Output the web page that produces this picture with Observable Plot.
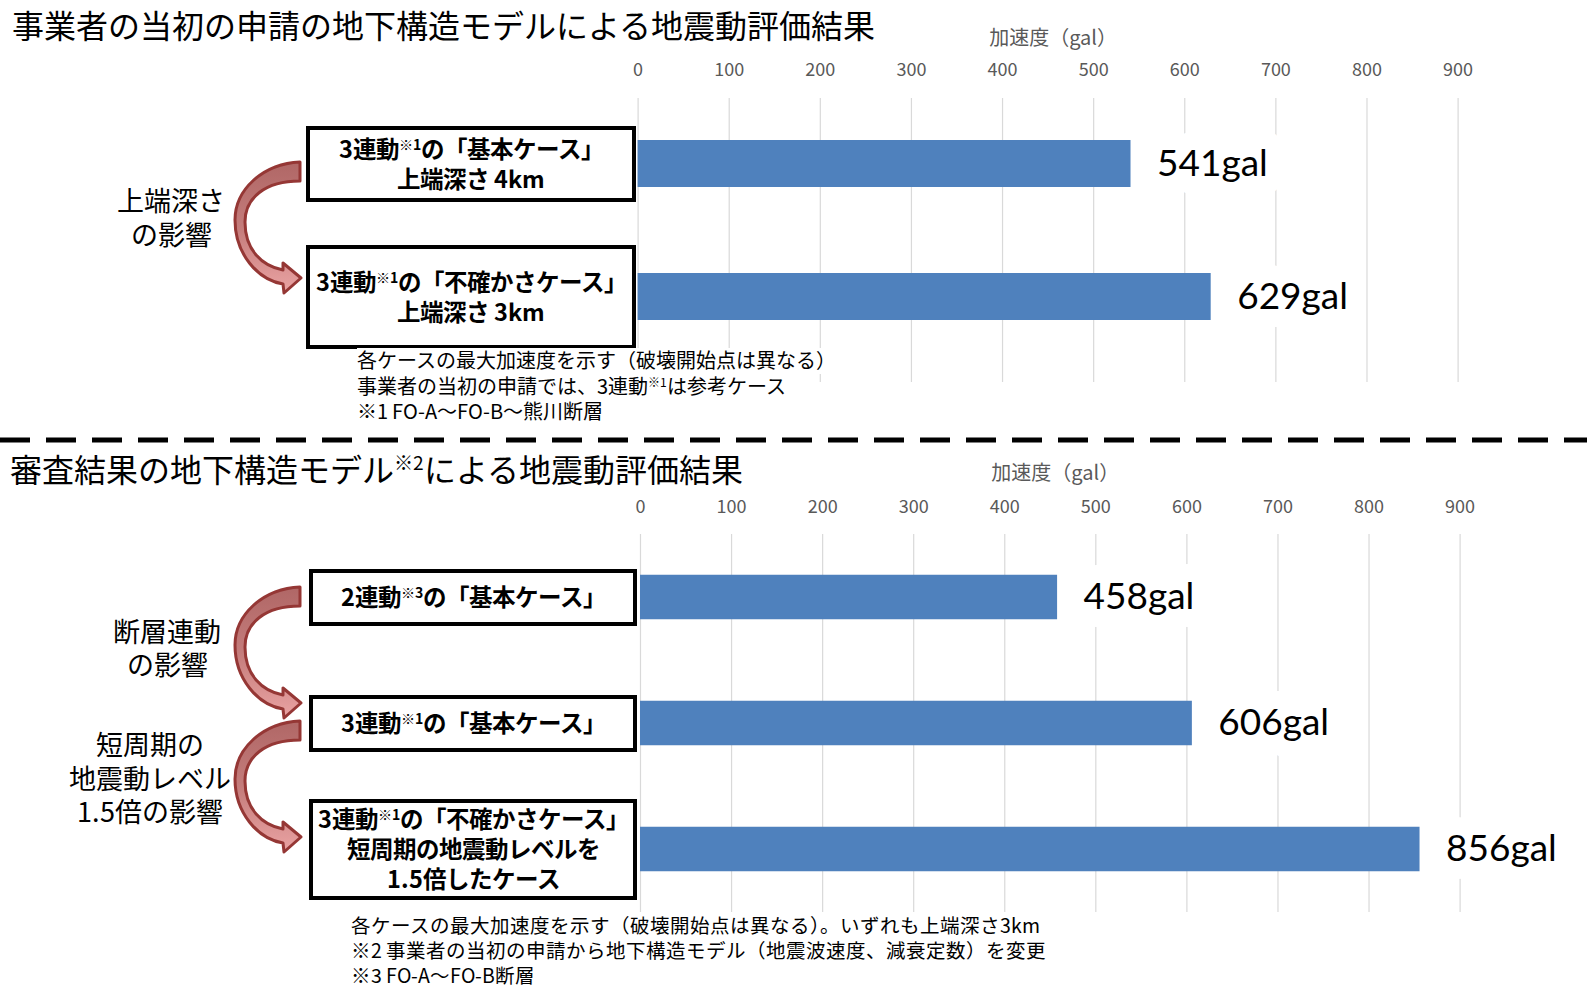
<!DOCTYPE html>
<html><head><meta charset="utf-8">
<script src="https://cdn.jsdelivr.net/npm/d3@7"></script>
<script src="https://cdn.jsdelivr.net/npm/@observablehq/plot@0.6"></script>
<style>
@font-face{font-family:"JP";src:local("Noto Sans CJK JP Regular"),local("NotoSansCJKjp-Regular"),local("Noto Sans CJK JP");font-weight:400;ascent-override:88%;descent-override:12%;line-gap-override:0%;}
@font-face{font-family:"JP";src:local("Noto Sans CJK JP Bold"),local("NotoSansCJKjp-Bold");font-weight:700;ascent-override:88%;descent-override:12%;line-gap-override:0%;}
body{margin:0;background:#fff;}
#page{position:relative;width:1587px;height:986px;overflow:hidden;background:#fff;font-family:"JP","Noto Sans CJK JP",sans-serif;color:#000;}
.title{position:absolute;font-size:32px;line-height:40px;white-space:nowrap;}
.box{position:absolute;box-sizing:border-box;border:4px solid #000;background:#fff;display:flex;flex-direction:column;align-items:center;justify-content:center;font-weight:bold;font-size:23.5px;white-space:nowrap;}
.box div{line-height:30px;}
.note{position:absolute;white-space:nowrap;}
.note div{background:#fff;display:table;}
.side{position:absolute;font-size:27px;line-height:33.5px;text-align:center;white-space:nowrap;width:300px;}
sup{font-size:0.6em;vertical-align:0.6em;line-height:0;}
svg.overlay{position:absolute;left:0;top:0;}
</style></head><body><div id="page"></div>
<script>
// ---------- data ----------
const axisTicks = [0, 100, 200, 300, 400, 500, 600, 700, 800, 900];
const axisLabel = "加速度（gal）";
const unit = "gal";

const topTitle = "事業者の当初の申請の地下構造モデルによる地震動評価結果";
const topCaseLines = [
  ["3連動※1の「基本ケース」", "上端深さ 4km"],
  ["3連動※1の「不確かさケース」", "上端深さ 3km"]
];
const topValues = [541, 629];
const topSide = ["上端深さ", "の影響"];
const topNotes = [
  "各ケースの最大加速度を示す（破壊開始点は異なる）",
  "事業者の当初の申請では、3連動※1は参考ケース",
  "※1 FO-A〜FO-B〜熊川断層"
];

const bottomTitle = "審査結果の地下構造モデル※2による地震動評価結果";
const bottomCaseLines = [
  ["2連動※3の「基本ケース」"],
  ["3連動※1の「基本ケース」"],
  ["3連動※1の「不確かさケース」", "短周期の地震動レベルを", "1.5倍したケース"]
];
const bottomValues = [458, 606, 856];
const bottomSide1 = ["断層連動", "の影響"];
const bottomSide2 = ["短周期の", "地震動レベル", "1.5倍の影響"];
const bottomNotes = [
  "各ケースの最大加速度を示す（破壊開始点は異なる）。いずれも上端深さ3km",
  "※2 事業者の当初の申請から地下構造モデル（地震波速度、減衰定数）を変更",
  "※3 FO-A〜FO-B断層"
];

// ---------- helpers ----------
const sup = s => s.replace(/(\S)※(\d)/g, "$1<sup>※$2</sup>");
const page = document.getElementById("page");
const topData = topCaseLines.map((l, i) => ({key: l.join(" "), lines: l, value: topValues[i]}));
const bottomData = bottomCaseLines.map((l, i) => ({key: l.join(" "), lines: l, value: bottomValues[i]}));

function makeChart(data, o) {
  const chart = Plot.plot({
    width: 1587, height: o.height,
    marginTop: o.mt, marginBottom: o.mb, marginLeft: o.ml, marginRight: o.mr,
    style: {fontFamily: '"Noto Sans CJK JP", sans-serif', fontSize: "18px", color: "#595959", background: "transparent", overflow: "visible"},
    x: {domain: [0, 900]},
    y: {domain: data.map(d => d.key), range: o.yRange, padding: 0, axis: null},
    marks: [
      Plot.ruleX(axisTicks, {stroke: "#d9d9d9", strokeWidth: 1.2}),
      Plot.barX(data, {x: "value", y: "key", fill: "#4f81bd", insetTop: o.inset, insetBottom: o.inset}),
      Plot.text(data, {x: "value", y: "key", text: d => d.value + unit, dx: 26, textAnchor: "start",
        fontFamily: "Lato, sans-serif", fontSize: 37, fill: "#000",
        stroke: "#fff", strokeWidth: 36, strokeLinejoin: "round", paintOrder: "stroke"}),
      Plot.axisX({ticks: axisTicks, anchor: "top", tickSize: 0, tickPadding: o.tp, label: null, fontSize: 18}),
      Plot.text([axisLabel], {frameAnchor: "top", dx: 5, dy: o.ldy, text: d => d, fontSize: 20, fill: "#595959"})
    ]
  });
  chart.style.position = "absolute";
  chart.style.left = "0px";
  chart.style.top = o.top + "px";
  page.appendChild(chart);
  return chart;
}

const topChart = makeChart(topData, {height: 440, top: 0, mt: 98, mb: 58, ml: 637.6, mr: 129.4, yRange: [97, 363], inset: 43, tp: 23, ldy: -68});
const bottomChart = makeChart(bottomData, {height: 546, top: 440, mt: 94, mb: 74, ml: 640, mr: 127.4, yRange: [94, 472], inset: 40.75, tp: 22, ldy: -69});

// ---------- decorations ----------
const svg = d3.select(page).append("svg").attr("class", "overlay").attr("width", 1587).attr("height", 986);
const grad = svg.append("defs").append("linearGradient").attr("id", "ag").attr("x1", 0).attr("y1", 0).attr("x2", 0).attr("y2", 1);
grad.append("stop").attr("offset", 0).attr("stop-color", "#b06766");
grad.append("stop").attr("offset", 0.5).attr("stop-color", "#c47c7b");
grad.append("stop").attr("offset", 1).attr("stop-color", "#eaa3a3");
const arrowPath = "M300,0 C262,2 235,28 235,58 C235,92 258,118 283,122 L284,131 L301,116 L283,101 L283,108 C262,104 245,88 245,60 C245,36 265,19 300,19 Z";
[162, 587, 721].forEach(y0 => {
  svg.append("path").attr("d", arrowPath).attr("transform", `translate(0,${y0})`)
    .attr("fill", "url(#ag)").attr("stroke", "#953735").attr("stroke-width", 3).attr("stroke-linejoin", "round");
});
svg.append("line").attr("x1", 0).attr("x2", 1587).attr("y1", 440).attr("y2", 440)
  .attr("stroke", "#000").attr("stroke-width", 5).attr("stroke-dasharray", "30 16");

function addBoxes(chart, data, top, x0, x1, heights) {
  const y = chart.scale("y");
  data.forEach((d, i) => {
    const cy = top + y.apply(d.key) + y.bandwidth / 2;
    const h = heights[i];
    const b = document.createElement("div");
    b.className = "box";
    Object.assign(b.style, {left: x0 + "px", top: (cy - h / 2) + "px", width: (x1 - x0) + "px", height: h + "px"});
    b.innerHTML = d.lines.map(l => `<div>${sup(l)}</div>`).join("");
    page.appendChild(b);
  });
}
addBoxes(topChart, topData, 0, 306, 636, [76, 104]);
addBoxes(bottomChart, bottomData, 440, 309, 637, [57, 57, 101]);

function addSide(lines, cx, y0) {
  const s = document.createElement("div");
  s.className = "side";
  Object.assign(s.style, {left: (cx - 150) + "px", top: (y0 - 16.75) + "px"});
  s.innerHTML = lines.map(l => `<div>${l}</div>`).join("");
  page.appendChild(s);
}
addSide(topSide, 171, 201);
addSide(bottomSide1, 167, 631.5);
addSide(bottomSide2, 150, 745);

function addNotes(lines, x, y0, lh, fs) {
  const n = document.createElement("div");
  n.className = "note";
  Object.assign(n.style, {left: x + "px", top: (y0 - lh / 2) + "px", lineHeight: lh + "px", fontSize: fs + "px"});
  n.innerHTML = lines.map(l => `<div>${sup(l)}</div>`).join("");
  page.appendChild(n);
}
addNotes(topNotes, 357, 361, 25.5, 20);
addNotes(bottomNotes, 351, 925, 25, 19.5);

function addTitle(text, x, cy) {
  const t = document.createElement("div");
  t.className = "title";
  Object.assign(t.style, {left: x + "px", top: (cy - 20) + "px"});
  t.innerHTML = sup(text);
  page.appendChild(t);
}
addTitle(topTitle, 12, 25.5);
addTitle(bottomTitle, 10, 470);
</script></body></html>
